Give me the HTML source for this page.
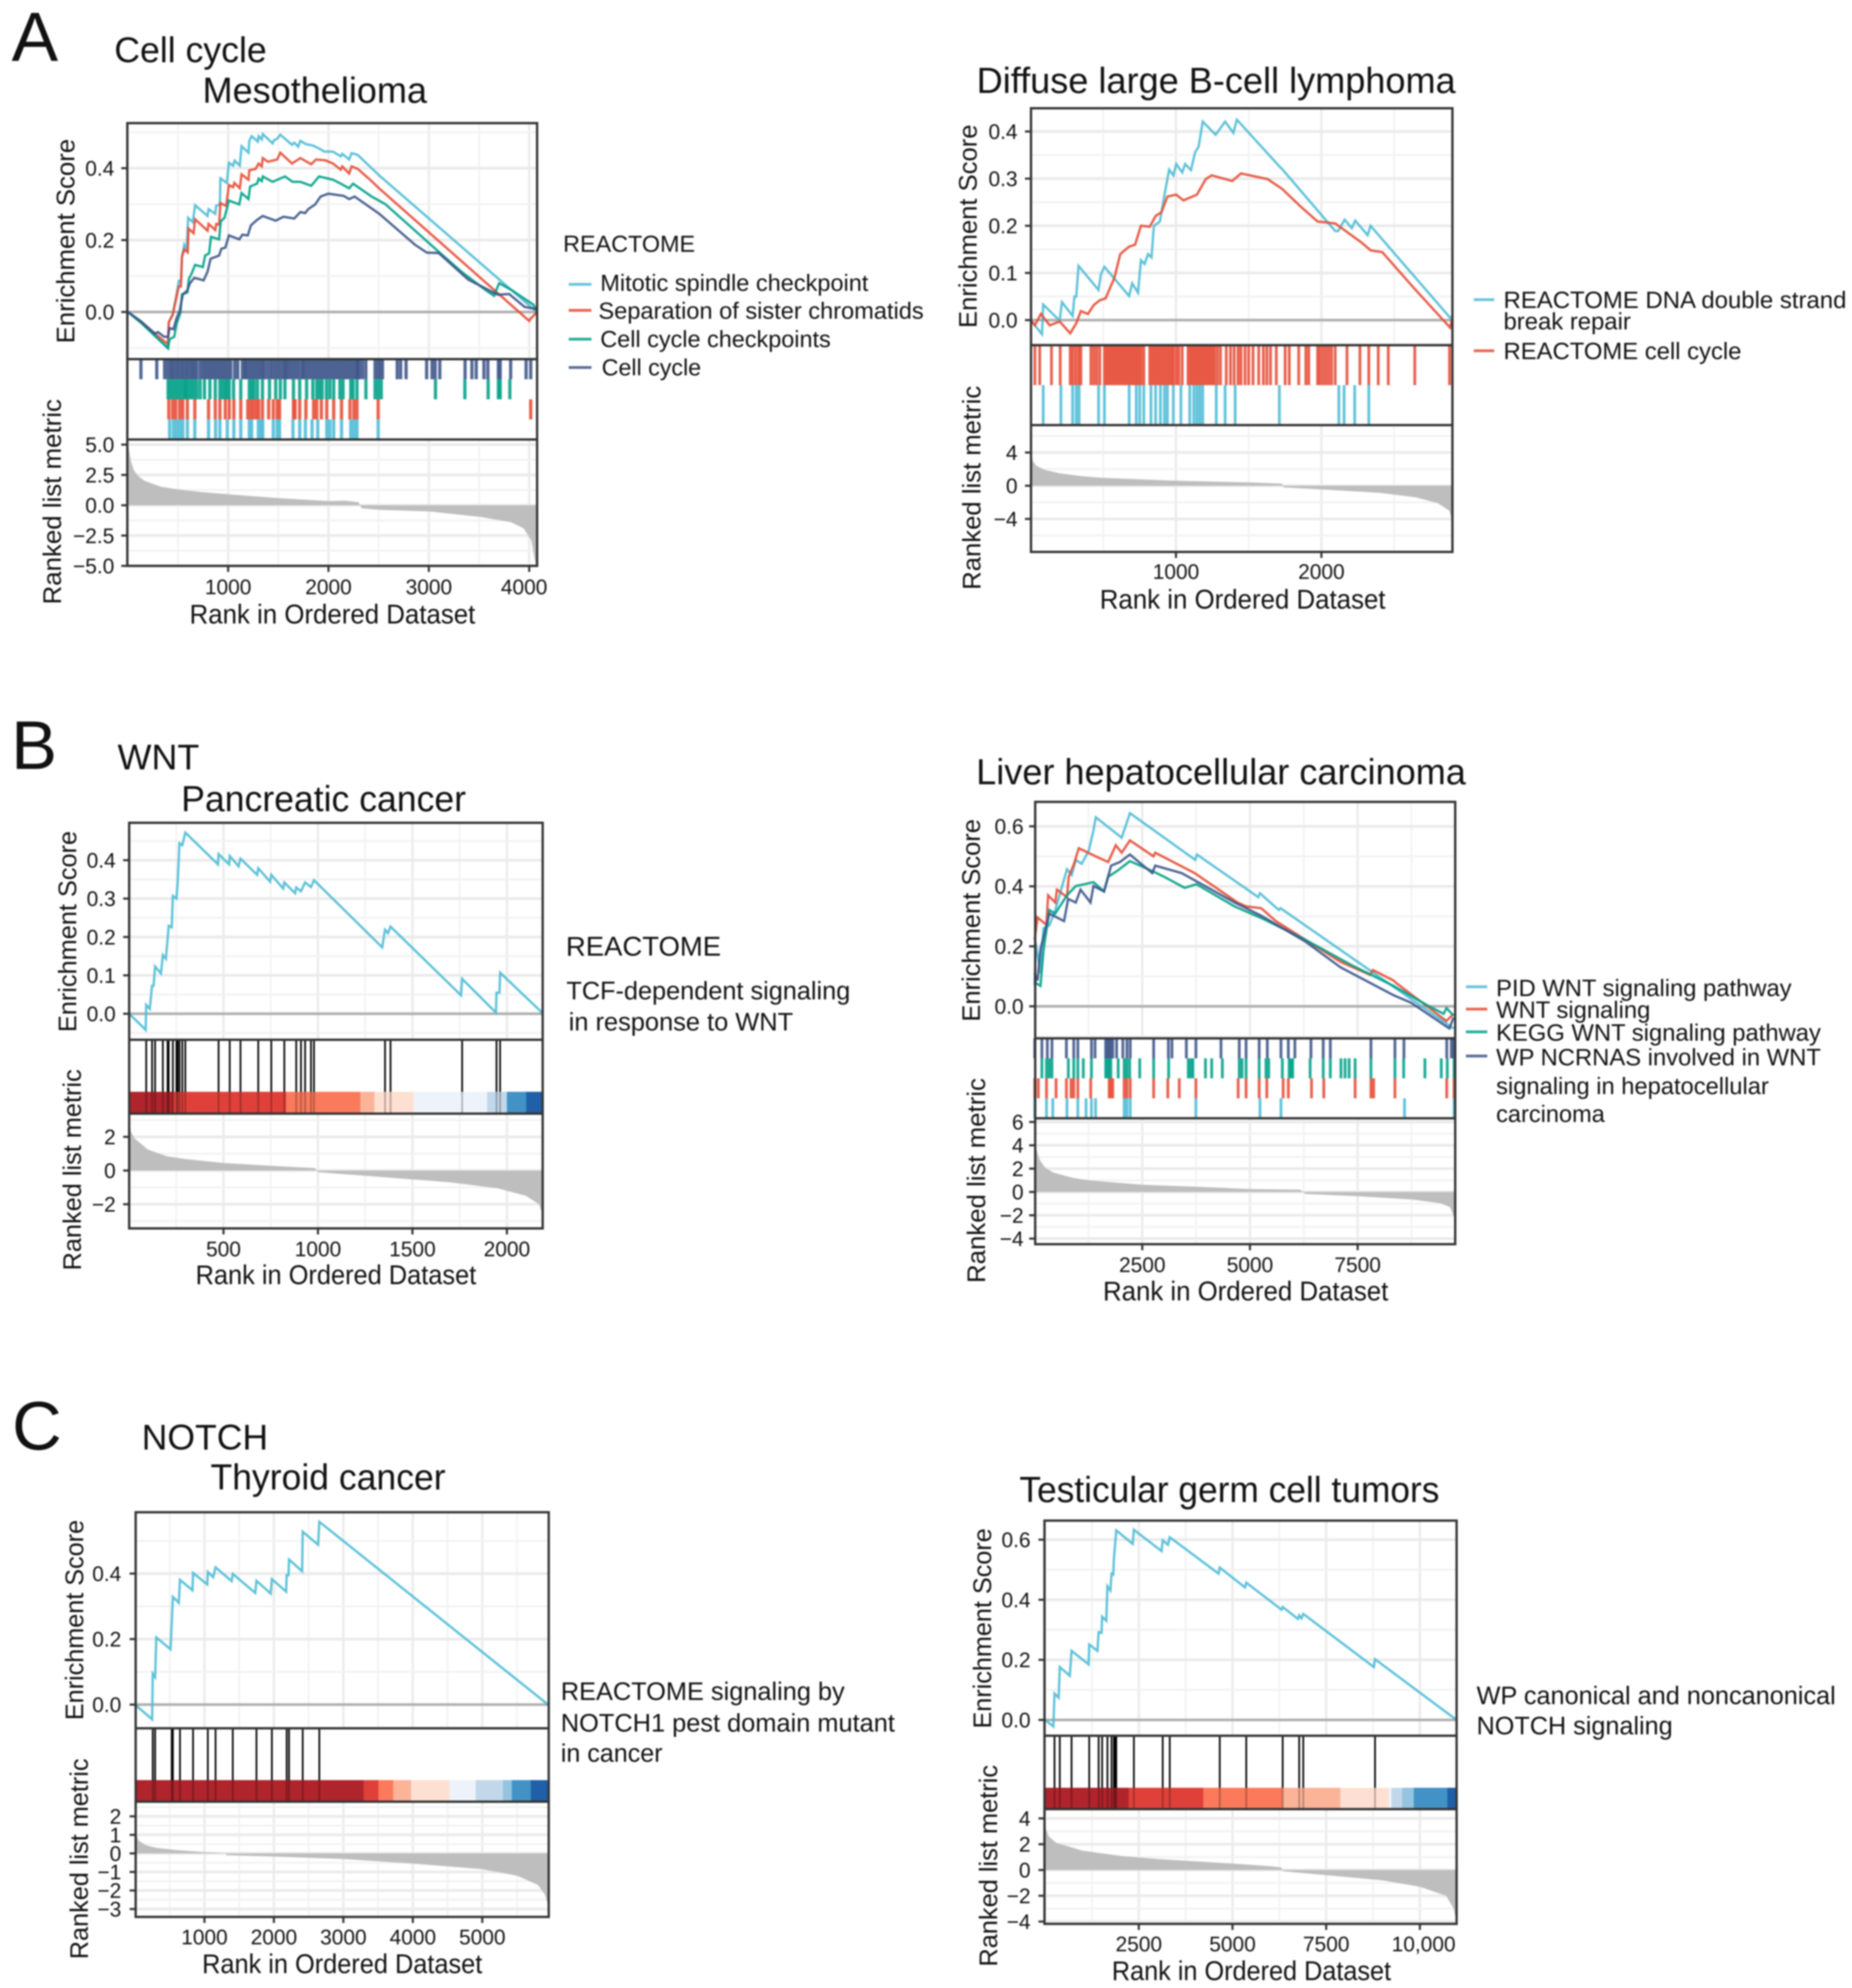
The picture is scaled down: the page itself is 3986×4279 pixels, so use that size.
<!DOCTYPE html>
<html lang="en">
<head>
<meta charset="utf-8">
<title>GSEA enrichment plots</title>
<style>
html,body{margin:0;padding:0;background:#fff;}
#figure{display:block;width:3986px;height:4279px;filter:blur(1.5px);}
#figure text{font-family:"Liberation Sans",sans-serif;fill:#111;}
</style>
</head>
<body>
<svg id="figure" xmlns="http://www.w3.org/2000/svg" width="3986" height="4279" viewBox="0 0 3986 4279">
<rect x="0" y="0" width="3986" height="4279" fill="#ffffff"/>
<g id="marks"></g>

<g>
<text x="25" y="131" font-size="150">A</text>
<text x="246" y="134" font-size="77" textLength="328" lengthAdjust="spacingAndGlyphs">Cell cycle</text>
<text x="436" y="221" font-size="78" textLength="483" lengthAdjust="spacingAndGlyphs">Mesothelioma</text>
<text x="160" y="519" font-size="55" text-anchor="middle" transform="rotate(-90 160 519)" textLength="440" lengthAdjust="spacingAndGlyphs">Enrichment Score</text>
<text x="131" y="1080" font-size="55" text-anchor="middle" transform="rotate(-90 131 1080)" textLength="442" lengthAdjust="spacingAndGlyphs">Ranked list metric</text>
<text x="408" y="1342" font-size="58" textLength="615" lengthAdjust="spacingAndGlyphs">Rank in Ordered Dataset</text>
<text x="1212" y="542" font-size="50" textLength="284" lengthAdjust="spacingAndGlyphs">REACTOME</text>
<g><line x1="1224" x2="1273" y1="612" y2="612" stroke="#4DBBD5" stroke-width="6" opacity=".85"/><text x="1292" y="626" font-size="50" textLength="577" lengthAdjust="spacingAndGlyphs">Mitotic spindle checkpoint</text></g>
<g><line x1="1224" x2="1273" y1="668" y2="668" stroke="#E64B35" stroke-width="6" opacity=".85"/><text x="1288" y="686" font-size="50" textLength="700" lengthAdjust="spacingAndGlyphs">Separation of sister chromatids</text></g>
<g><line x1="1224" x2="1273" y1="730" y2="730" stroke="#00A087" stroke-width="6" opacity=".85"/><text x="1292" y="747" font-size="50" textLength="496" lengthAdjust="spacingAndGlyphs">Cell cycle checkpoints</text></g>
<g><line x1="1224" x2="1273" y1="791" y2="791" stroke="#3C5488" stroke-width="6" opacity=".85"/><text x="1295" y="808" font-size="50" textLength="214" lengthAdjust="spacingAndGlyphs">Cell cycle</text></g>

<text x="2102" y="200" font-size="78" textLength="1031" lengthAdjust="spacingAndGlyphs">Diffuse large B-cell lymphoma</text>
<text x="2102" y="487" font-size="55" text-anchor="middle" transform="rotate(-90 2102 487)" textLength="438" lengthAdjust="spacingAndGlyphs">Enrichment Score</text>
<text x="2110" y="1050" font-size="55" text-anchor="middle" transform="rotate(-90 2110 1050)" textLength="439" lengthAdjust="spacingAndGlyphs">Ranked list metric</text>
<text x="2367" y="1310" font-size="58" textLength="615" lengthAdjust="spacingAndGlyphs">Rank in Ordered Dataset</text>
<g><line x1="3172" x2="3216" y1="645" y2="645" stroke="#4DBBD5" stroke-width="6" opacity=".85"/><text x="3236" y="663" font-size="51" textLength="738" lengthAdjust="spacingAndGlyphs">REACTOME DNA double strand</text><text x="3236" y="709" font-size="51" textLength="274" lengthAdjust="spacingAndGlyphs">break repair</text></g>
<g><line x1="3172" x2="3216" y1="755" y2="755" stroke="#E64B35" stroke-width="6" opacity=".85"/><text x="3236" y="773" font-size="51" textLength="512" lengthAdjust="spacingAndGlyphs">REACTOME cell cycle</text></g>
</g>

<g>
<text x="24" y="1655" font-size="148">B</text>
<text x="253" y="1656" font-size="77" textLength="176" lengthAdjust="spacingAndGlyphs">WNT</text>
<text x="390" y="1746" font-size="78" textLength="613" lengthAdjust="spacingAndGlyphs">Pancreatic cancer</text>
<text x="164" y="2005" font-size="55" text-anchor="middle" transform="rotate(-90 164 2005)" textLength="433" lengthAdjust="spacingAndGlyphs">Enrichment Score</text>
<text x="174" y="2518" font-size="55" text-anchor="middle" transform="rotate(-90 174 2518)" textLength="433" lengthAdjust="spacingAndGlyphs">Ranked list metric</text>
<text x="421" y="2764" font-size="58" textLength="604" lengthAdjust="spacingAndGlyphs">Rank in Ordered Dataset</text>
<text x="1218" y="2057" font-size="58" textLength="334" lengthAdjust="spacingAndGlyphs">REACTOME</text>
<text x="1219" y="2151" font-size="55" textLength="611" lengthAdjust="spacingAndGlyphs">TCF-dependent signaling</text>
<text x="1224" y="2218" font-size="55" textLength="483" lengthAdjust="spacingAndGlyphs">in response to WNT</text>

<text x="2101" y="1688" font-size="78" textLength="1054" lengthAdjust="spacingAndGlyphs">Liver hepatocellular carcinoma</text>
<text x="2109" y="1981" font-size="55" text-anchor="middle" transform="rotate(-90 2109 1981)" textLength="436" lengthAdjust="spacingAndGlyphs">Enrichment Score</text>
<text x="2120" y="2541" font-size="55" text-anchor="middle" transform="rotate(-90 2120 2541)" textLength="441" lengthAdjust="spacingAndGlyphs">Ranked list metric</text>
<text x="2374" y="2799" font-size="58" textLength="614" lengthAdjust="spacingAndGlyphs">Rank in Ordered Dataset</text>
<g><line x1="3155" x2="3201" y1="2124" y2="2124" stroke="#4DBBD5" stroke-width="6" opacity=".85"/><text x="3220" y="2144" font-size="51" textLength="636" lengthAdjust="spacingAndGlyphs">PID WNT signaling pathway</text></g>
<g><line x1="3155" x2="3201" y1="2172" y2="2172" stroke="#E64B35" stroke-width="6" opacity=".85"/><text x="3220" y="2191" font-size="51" textLength="332" lengthAdjust="spacingAndGlyphs">WNT signaling</text></g>
<g><line x1="3155" x2="3201" y1="2221" y2="2221" stroke="#00A087" stroke-width="6" opacity=".85"/><text x="3220" y="2240" font-size="51" textLength="699" lengthAdjust="spacingAndGlyphs">KEGG WNT signaling pathway</text></g>
<g><line x1="3155" x2="3201" y1="2273" y2="2273" stroke="#3C5488" stroke-width="6" opacity=".85"/><text x="3220" y="2293" font-size="51" textLength="699" lengthAdjust="spacingAndGlyphs">WP NCRNAS involved in WNT</text><text x="3220" y="2355" font-size="51" textLength="587" lengthAdjust="spacingAndGlyphs">signaling in hepatocellular</text><text x="3220" y="2415" font-size="51" textLength="234" lengthAdjust="spacingAndGlyphs">carcinoma</text></g>
</g>

<g>
<text x="26" y="3120" font-size="148">C</text>
<text x="305" y="3120" font-size="77" textLength="272" lengthAdjust="spacingAndGlyphs">NOTCH</text>
<text x="453" y="3206" font-size="78" textLength="506" lengthAdjust="spacingAndGlyphs">Thyroid cancer</text>
<text x="179" y="3487" font-size="55" text-anchor="middle" transform="rotate(-90 179 3487)" textLength="431" lengthAdjust="spacingAndGlyphs">Enrichment Score</text>
<text x="189" y="4001" font-size="55" text-anchor="middle" transform="rotate(-90 189 4001)" textLength="432" lengthAdjust="spacingAndGlyphs">Ranked list metric</text>
<text x="435" y="4247" font-size="58" textLength="603" lengthAdjust="spacingAndGlyphs">Rank in Ordered Dataset</text>
<text x="1207" y="3659" font-size="55" textLength="611" lengthAdjust="spacingAndGlyphs">REACTOME signaling by</text>
<text x="1207" y="3727" font-size="55" textLength="719" lengthAdjust="spacingAndGlyphs">NOTCH1 pest domain mutant</text>
<text x="1207" y="3792" font-size="55" textLength="219" lengthAdjust="spacingAndGlyphs">in cancer</text>

<text x="2194" y="3233" font-size="78" textLength="904" lengthAdjust="spacingAndGlyphs">Testicular germ cell tumors</text>
<text x="2133" y="3505" font-size="55" text-anchor="middle" transform="rotate(-90 2133 3505)" textLength="431" lengthAdjust="spacingAndGlyphs">Enrichment Score</text>
<text x="2146" y="4016" font-size="55" text-anchor="middle" transform="rotate(-90 2146 4016)" textLength="434" lengthAdjust="spacingAndGlyphs">Ranked list metric</text>
<text x="2393" y="4262" font-size="58" textLength="601" lengthAdjust="spacingAndGlyphs">Rank in Ordered Dataset</text>
<text x="3178" y="3668" font-size="55" textLength="773" lengthAdjust="spacingAndGlyphs">WP canonical and noncanonical</text>
<text x="3178" y="3733" font-size="55" textLength="422" lengthAdjust="spacingAndGlyphs">NOTCH signaling</text>
</g>
</svg>

<script>
// ---------- Panel A1: Mesothelioma ----------
const a1RankTicks=[1000,2000,3000,4000];
const a1RankLabels=['1000','2000','3000','4000'];
const a1EsTicks=[0,0.2,0.4];
const a1EsLabels=['0.0','0.2','0.4'];
const a1MetricTicks=[-5,-2.5,0,2.5,5];
const a1MetricLabels=['\u22125.0','\u22122.5','0.0','2.5','5.0'];
const a1Mitotic=[[1,0],[131,-.026],[401,-.101],[409,-.028],[447,-.007],[478,.036],[509,.086],[532,.088],[540,.153],[563,.187],[586,.174],[602,.262],[648,.25],[671,.297],[795,.267],[805,.286],[872,.273],[880,.295],[918,.299],[923,.372],[987,.359],[1008,.415],[1049,.407],[1065,.421],[1116,.407],[1134,.461],[1203,.443],[1211,.476],[1234,.489],[1296,.474],[1304,.489],[1335,.48],[1345,.495],[1443,.469],[1458,.478],[1489,.482],[1520,.493],[1636,.465],[1659,.471],[1697,.46],[1720,.476],[1774,.467],[1844,.463],[1898,.456],[1960,.446],[2044,.446],[2122,.433],[2137,.44],[2206,.424],[2230,.442],[2291,.437],[2430,.4],[2505,.38],[4075,0]];
const a1Separation=[[1,0],[131,-.028],[401,-.09],[401,-.076],[409,-.028],[447,-.009],[478,.032],[509,.071],[529,.071],[540,.153],[563,.174],[597,.166],[606,.232],[656,.219],[671,.258],[795,.226],[805,.245],[872,.228],[882,.245],[910,.243],[923,.303],[980,.295],[1008,.353],[1049,.347],[1062,.359],[1116,.344],[1134,.383],[1203,.368],[1211,.394],[1273,.398],[1304,.413],[1335,.405],[1345,.428],[1396,.418],[1489,.424],[1520,.443],[1636,.413],[1720,.428],[1828,.411],[1875,.424],[1967,.422],[2044,.413],[2122,.396],[2137,.405],[2206,.385],[2230,.405],[2291,.398],[2430,.364],[2500,.345],[4000,-.025],[4010,-.02],[4078,0]];
const a1Checkpoints=[[1,0],[131,-.03],[401,-.101],[416,-.076],[463,-.069],[486,-.033],[525,-.002],[540,.049],[594,.054],[609,.092],[633,.105],[671,.131],[748,.125],[771,.157],[810,.163],[829,.209],[910,.202],[926,.252],[964,.262],[1008,.31],[1111,.299],[1134,.331],[1203,.314],[1219,.349],[1288,.357],[1304,.371],[1335,.364],[1345,.377],[1443,.362],[1566,.377],[1643,.362],[1720,.362],[1828,.351],[1906,.377],[2044,.368],[2122,.357],[2206,.344],[2245,.357],[2430,.321],[2566,.3],[3068,.175],[3334,.11],[3570,.06],[3650,.045],[3700,.08],[3830,.06],[4043,.02],[4078,0]];
const a1CellCycle=[[1,0],[131,-.026],[270,-.06],[301,-.056],[362,-.069],[401,-.069],[416,-.045],[455,-.048],[486,-.017],[517,.002],[548,.049],[594,.06],[617,.079],[663,.095],[756,.088],[795,.112],[825,.148],[910,.157],[933,.176],[972,.179],[1008,.213],[1111,.202],[1142,.215],[1196,.213],[1227,.241],[1288,.256],[1345,.267],[1474,.254],[1551,.265],[1659,.26],[1720,.278],[1767,.275],[1798,.286],[1867,.299],[1921,.321],[1998,.329],[2152,.323],[2206,.314],[2260,.321],[2430,.288],[2507,.273],[2862,.187],[2980,.165],[3098,.164],[3393,.09],[3688,.048],[3800,.05],[3954,.014],[4078,.008]];
const a1HitsCellCycle=[131,289,367,398,424,443,465,490,510,535,555,580,600,625,645,665,687,721,749,772,795,818,841,864,887,910,933,956,979,1002,1026,1065,1096,1142,1165,1180,1203,1226,1249,1272,1295,1318,1340,1358,1389,1420,1443,1470,1495,1520,1545,1566,1582,1605,1630,1655,1680,1705,1736,1751,1775,1800,1825,1850,1875,1900,1925,1950,1975,2000,2025,2050,2075,2100,2125,2150,2175,2200,2225,2250,2275,2290,2307,2338,2372,2464,2492,2515,2538,2685,2719,2773,2978,3032,3063,3109,3361,3429,3472,3549,3588,3693,3711,3815,3969,4015];
const a1HitsCheckpoints=[402,425,450,475,500,525,550,571,586,610,635,660,687,721,764,818,872,918,945,970,990,1011,1054,1126,1211,1235,1258,1292,1342,1412,1474,1520,1566,1651,1713,1782,1844,1883,1910,1937,1980,2014,2052,2114,2145,2222,2245,2284,2373,2464,2495,2526,3066,3359,3591,3693,3711,3807];
const a1HitsSeparation=[409,447,478,517,548,594,668,805,872,918,972,1011,1057,1126,1196,1225,1250,1281,1304,1342,1404,1450,1489,1512,1651,1667,1713,1775,1852,1883,1929,1983,2052,2130,2214,2253,2284,2495,4015];
const a1HitsMitotic=[417,455,486,517,548,594,668,805,875,918,992,1057,1126,1211,1234,1301,1327,1345,1450,1489,1512,1646,1713,1770,1836,1893,1983,2014,2052,2130,2222,2253,2284,2495];
const a1Metric=[[1,5],[8,4.8],[31,3.64],[62,2.87],[100,2.43],[162,2.04],[239,1.79],[332,1.53],[471,1.34],[733,1.09],[1011,.9],[1474,.6],[1998,.345],[2168,.38],[2299,.25],[2330,-.25],[2508,-.38],[3001,-.51],[3511,-.96],[3819,-1.4],[3943,-1.9],[4020,-2.87],[4066,-5]];

// ---------- Panel A2: Diffuse large B-cell lymphoma ----------
const a2RankTicks=[1000,2000];
const a2RankLabels=['1000','2000'];
const a2EsTicks=[0,.1,.2,.3,.4];
const a2EsLabels=['0.0','0.1','0.2','0.3','0.4'];
const a2MetricTicks=[-4,0,4];
const a2MetricLabels=['\u22124','0','4'];
const a2DnaRepair=[[1,0],[79,-.03],[87,.033],[200,-.001],[216,.038],[289,.009],[302,.05],[314,.05],[330,.115],[467,.064],[484,.097],[508,.113],[678,.051],[699,.078],[739,.058],[759,.127],[784,.119],[808,.14],[832,.133],[848,.2],[889,.209],[921,.266],[953,.319],[982,.307],[1002,.331],[1043,.313],[1063,.331],[1103,.318],[1132,.356],[1156,.368],[1184,.421],[1273,.393],[1338,.421],[1395,.397],[1419,.425],[1711,.326],[1731,.32],[2095,.189],[2115,.189],[2160,.213],[2209,.195],[2233,.211],[2318,.18],[2338,.2],[2885,.005],[2901,.008]];
const a2CellCycle=[[1,0],[30,-.011],[71,.013],[132,-.011],[200,-.003],[273,-.028],[314,-.007],[346,.019],[395,.013],[435,.032],[476,.042],[516,.046],[577,.09],[617,.14],[678,.156],[719,.16],[759,.2],[820,.198],[860,.221],[901,.229],[941,.262],[1002,.266],[1051,.254],[1144,.266],[1205,.299],[1245,.307],[1387,.295],[1447,.311],[1630,.299],[1731,.278],[1853,.242],[1974,.209],[2095,.205],[2278,.164],[2338,.148],[2419,.144],[2642,.066],[2885,-.016],[2901,.005]];
const a2HitsCellCycle=[30,63,144,204,273,290,310,330,346,415,435,455,476,508,522,536,550,564,578,592,606,620,634,648,662,676,690,704,718,732,746,760,779,820,835,850,865,880,895,910,925,940,955,970,982,1002,1020,1043,1083,1097,1111,1125,1139,1153,1167,1181,1195,1209,1223,1237,1251,1265,1285,1306,1346,1375,1400,1427,1447,1475,1500,1530,1569,1601,1625,1650,1690,1751,1779,1844,1893,1913,1974,1990,2010,2030,2050,2070,2095,2176,2265,2326,2391,2460,2642,2881];
const a2HitsDnaRepair=[87,209,289,314,334,468,508,678,727,751,779,828,860,893,921,941,982,1034,1095,1123,1144,1164,1184,1277,1338,1407,1711,2120,2156,2229,2326];
const a2Metric=[[1,4.2],[15,3],[40,2.4],[100,1.9],[200,1.5],[350,1.15],[500,.95],[1000,.6],[1500,.4],[1730,.25],[1740,-.2],[2000,-.45],[2400,-.85],[2650,-1.4],[2800,-2.1],[2880,-3],[2901,-4.3]];

// ---------- Panel B1: Pancreatic cancer ----------
const b1RankTicks=[500,1000,1500,2000];
const b1RankLabels=['500','1000','1500','2000'];
const b1EsTicks=[0,.1,.2,.3,.4];
const b1EsLabels=['0.0','0.1','0.2','0.3','0.4'];
const b1MetricTicks=[-2,0,2];
const b1MetricLabels=['\u22122','0','2'];
const b1Tcf=[[1,0],[88,-.042],[91,.023],[110,.013],[122,.073],[130,.073],[138,.123],[169,.105],[179,.153],[195,.143],[204,.193],[210,.229],[226,.225],[232,.307],[251,.3],[257,.337],[267,.444],[282,.439],[298,.472],[471,.389],[474,.416],[530,.389],[533,.411],[580,.384],[590,.404],[678,.362],[684,.379],[747,.344],[753,.362],[816,.326],[822,.342],[879,.314],[885,.329],[910,.319],[932,.342],[963,.33],[979,.348],[1340,.173],[1355,.219],[1371,.21],[1384,.227],[1757,.048],[1763,.091],[1942,.003],[1945,.055],[1961,.055],[1964,.107],[2186,.003]];
const b1HitsTcf=[91,122,138,179,204,210,232,251,257,267,282,298,474,533,590,684,753,822,885,910,932,963,979,1355,1384,1763,1945,1964];
const b1BandEnds=[235,831,1224,1299,1506,1895,2000,2102,2189];
const b1BandLevels=[0,1,2,3,4,5,6,8,9];
const b1Metric=[[1,3],[10,2.3],[30,1.9],[100,1.25],[200,.85],[300,.68],[500,.45],[800,.25],[985,.15],[1000,-.1],[1300,-.35],[1700,-.7],[1950,-1.05],[2100,-1.5],[2170,-2],[2189,-2.6]];

// ---------- Panel B2: Liver hepatocellular carcinoma ----------
const b2RankTicks=[2500,5000,7500];
const b2RankLabels=['2500','5000','7500'];
const b2EsTicks=[0,.2,.4,.6];
const b2EsLabels=['0.0','0.2','0.4','0.6'];
const b2MetricTicks=[-4,-2,0,2,4,6];
const b2MetricLabels=['\u22124','\u22122','0','2','4','6'];
const b2Pid=[[1,.07],[27,.21],[137,.11],[205,.26],[342,.27],[478,.32],[751,.457],[861,.438],[956,.488],[1093,.475],[1257,.519],[1366,.586],[1421,.63],[2022,.562],[2213,.644],[3730,.488],[3770,.506],[5191,.364],[5232,.377],[5669,.321],[5710,.327],[9727,-.074]];
const b2Wnt=[[1,.222],[68,.296],[273,.272],[314,.37],[478,.346],[519,.389],[751,.364],[792,.432],[915,.475],[1025,.527],[1503,.494],[1708,.481],[1885,.537],[2022,.512],[2213,.553],[2760,.5],[2801,.512],[3716,.444],[4713,.346],[4918,.333],[5260,.327],[5601,.284],[7104,.148],[7787,.105],[7855,.121],[8333,.086],[8402,.077],[9563,-.049],[9727,-.025]];
const b2Kegg=[[1,.08],[137,.068],[205,.185],[342,.321],[478,.309],[751,.37],[956,.401],[1161,.407],[1366,.414],[1612,.383],[1708,.432],[1913,.451],[2213,.484],[2732,.451],[3005,.432],[3484,.395],[3757,.407],[4645,.333],[5328,.29],[6284,.222],[7377,.136],[8333,.068],[9085,.006],[9495,-.025],[9563,-.006],[9727,-.031]];
const b2Ncrnas=[[1,.11],[68,.086],[137,.191],[342,.309],[683,.284],[779,.358],[956,.346],[1066,.389],[1298,.346],[1366,.401],[1612,.383],[1776,.469],[1981,.481],[2213,.506],[2732,.444],[2801,.469],[3415,.444],[3716,.42],[4645,.346],[5260,.302],[6284,.216],[7104,.13],[8333,.037],[8743,.012],[9631,-.074],[9727,-.037]];
const b2HitsNcrnas=[4,169,295,403,738,909,1004,1320,1403,1650,1690,1730,1770,1814,1903,2049,2144,2220,2764,3106,3188,3523,3745,4327,4751,4910,5214,5403,5720,5891,6043,6416,6701,6866,7809,8366,8575,9569,9676,9727];
const b2HitsKegg=[169,276,340,403,783,909,1004,1131,1320,1650,1690,1730,1770,1941,2080,2140,2207,2441,2764,3112,3568,3625,3675,3967,4112,4359,4751,4815,4910,5214,5372,5435,5752,5910,5950,5992,6397,6701,6866,7113,7208,7302,7442,7809,8366,8569,9062,9442,9581,9739];
const b2HitsWnt=[4,86,276,498,738,846,909,1004,1302,1732,1770,1814,2080,2144,2220,2764,3093,3359,3745,4726,4910,5214,5391,5771,5891,6429,6714,7442,7809,7872,8366,9569,9739];
const b2HitsPid=[4,276,422,751,1004,1194,1320,1416,2080,2144,2220,3745,5233,5720,8588,9739];
const b2Metric=[[1,4.2],[42,3.7],[118,2.75],[245,2.08],[434,1.66],[878,1.22],[1257,1],[1827,.82],[2510,.62],[3757,.45],[4992,.25],[6163,.2],[6290,-.17],[7524,-.37],[8758,-.64],[9423,-.97],[9645,-1.3],[9727,-2.03],[9766,-2.5]];

// ---------- Panel C1: Thyroid cancer ----------
const c1RankTicks=[1000,2000,3000,4000,5000];
const c1RankLabels=['1000','2000','3000','4000','5000'];
const c1EsTicks=[0,.2,.4];
const c1EsLabels=['0.0','0.2','0.4'];
const c1MetricTicks=[-3,-2,-1,0,1,2];
const c1MetricLabels=['\u22123','\u22122','\u22121','0','1','2'];
const c1Notch=[[1,0],[247,-.045],[256,.094],[290,.084],[307,.205],[512,.169],[529,.25],[546,.329],[631,.311],[648,.381],[828,.349],[836,.402],[1041,.367],[1049,.405],[1126,.389],[1160,.419],[1391,.377],[1408,.399],[1732,.341],[1749,.378],[1954,.339],[1971,.383],[2176,.345],[2184,.395],[2210,.395],[2218,.443],[2406,.407],[2415,.528],[2637,.488],[2654,.558],[5947,0]];
const c1HitsNotch=[256,290,529,546,648,836,1049,1160,1408,1749,1971,2184,2218,2415,2654];
const c1BandEnds=[3292,3505,3718,3974,4529,4905,5297,5425,5698,5956];
const c1BandLevels=[0,1,2,3,4,5,6,7,8,9];
const c1Metric=[[1,1.2],[50,.7],[150,.45],[300,.3],[600,.18],[1000,.07],[1300,.02],[1320,-.1],[2000,-.17],[3000,-.3],[4000,-.55],[5000,-.85],[5500,-1.2],[5800,-1.7],[5900,-2.2],[5956,-2.9]];

// ---------- Panel C2: Testicular germ cell tumors ----------
const c2RankTicks=[2500,5000,7500,10000];
const c2RankLabels=['2500','5000','7500','10,000'];
const c2EsTicks=[0,.2,.4,.6];
const c2EsLabels=['0.0','0.2','0.4','0.6'];
const c2MetricTicks=[-4,-2,0,2,4];
const c2MetricLabels=['\u22124','\u22122','0','2','4'];
const c2Notch=[[1,0],[220,-.022],[251,.088],[361,.074],[392,.176],[659,.147],[706,.23],[1161,.185],[1177,.251],[1397,.23],[1428,.292],[1506,.29],[1522,.344],[1632,.33],[1663,.445],[1742,.431],[1773,.487],[1820,.484],[1836,.536],[1899,.631],[2338,.586],[2369,.633],[3107,.562],[3138,.598],[3279,.583],[3326,.608],[4629,.487],[4660,.507],[5335,.441],[5367,.457],[6308,.367],[6339,.376],[6747,.336],[6779,.348],[6841,.338],[6888,.353],[8771,.176],[8803,.202],[10968,.001]];
const c2HitsNotch=[251,392,706,1177,1428,1522,1663,1773,1836,1870,1899,2369,3138,3326,4660,5367,6339,6779,6888,8803];
const c2BandEnds=[2228,4221,6339,7877,9164,9242,9525,9838,10733,10979];
const c2BandLevels=[0,1,2,3,4,5,6,7,8,9];
const c2Metric=[[1,4],[20,3.2],[100,2.6],[300,2.1],[1000,1.5],[2000,1.1],[3000,.85],[5000,.5],[6000,.3],[6300,.2],[6350,-.1],[7500,-.4],[9000,-.8],[10000,-1.3],[10700,-2],[10900,-3],[10979,-4]];

// ---------- Shared styling ----------
const CYAN='#4DBBD5', RED='#E64B35', GREEN='#00A087', NAVY='#3C5488';
const BAND_COLORS=['#b0242c','#e0403a','#fb7a5b','#fcb499','#fee0d2','#eef3fb','#c2d8ea','#94c4df','#4292c6','#2060a8'];

const panels=[
 {id:'mesothelioma',rankTicks:a1RankTicks,rankLabels:a1RankLabels,esTicks:a1EsTicks,esLabels:a1EsLabels,mTicks:a1MetricTicks,mLabels:a1MetricLabels,
  series:[[a1Mitotic,CYAN],[a1Separation,RED],[a1Checkpoints,GREEN],[a1CellCycle,NAVY]],
  rows:[[a1HitsCellCycle,NAVY],[a1HitsCheckpoints,GREEN],[a1HitsSeparation,RED],[a1HitsMitotic,CYAN]],hitWidth:7,metric:a1Metric,
  box:{l:274,r:1156,t:265,e:773,g:946,b:1218},xA:[1000,491,4000,1139],esA:[0,671.5,.4,362],mA:[5,957,-5,1218],tickRight:246,xTickY:1279,lastLabelShift:-11},
 {id:'dlbcl',rankTicks:a2RankTicks,rankLabels:a2RankLabels,esTicks:a2EsTicks,esLabels:a2EsLabels,mTicks:a2MetricTicks,mLabels:a2MetricLabels,
  series:[[a2DnaRepair,CYAN],[a2CellCycle,RED]],
  rows:[[a2HitsCellCycle,RED],[a2HitsDnaRepair,CYAN]],hitWidth:6,metric:a2Metric,
  box:{l:2219,r:3126,t:233,e:743,g:915,b:1188},xA:[1000,2531,2000,2844],esA:[0,689,.4,283],mA:[4,974,-4,1117],tickRight:2190,xTickY:1246,lastLabelShift:0},
 {id:'pancreatic',rankTicks:b1RankTicks,rankLabels:b1RankLabels,esTicks:b1EsTicks,esLabels:b1EsLabels,mTicks:b1MetricTicks,mLabels:b1MetricLabels,
  series:[[b1Tcf,CYAN]],hits:b1HitsTcf,bandEnds:b1BandEnds,bandLevels:b1BandLevels,barTop:2350,metric:b1Metric,
  box:{l:278,r:1168,t:1771,e:2238,g:2397,b:2644},xA:[500,481,2000,1091],esA:[0,2182,.4,1851.5],mA:[2,2447,-2,2592],tickRight:249,xTickY:2704,lastLabelShift:0},
 {id:'liver',rankTicks:b2RankTicks,rankLabels:b2RankLabels,esTicks:b2EsTicks,esLabels:b2EsLabels,mTicks:b2MetricTicks,mLabels:b2MetricLabels,
  series:[[b2Pid,CYAN],[b2Wnt,RED],[b2Kegg,GREEN],[b2Ncrnas,NAVY]],
  rows:[[b2HitsNcrnas,NAVY],[b2HitsKegg,GREEN],[b2HitsWnt,RED],[b2HitsPid,CYAN]],hitWidth:6,metric:b2Metric,
  box:{l:2228,r:3132,t:1726,e:2235,g:2407,b:2678},xA:[2500,2458.5,7500,2922],esA:[0,2166,.6,1778.6],mA:[6,2415,-4,2666],tickRight:2203,xTickY:2738,lastLabelShift:0},
 {id:'thyroid',rankTicks:c1RankTicks,rankLabels:c1RankLabels,esTicks:c1EsTicks,esLabels:c1EsLabels,mTicks:c1MetricTicks,mLabels:c1MetricLabels,
  series:[[c1Notch,CYAN]],hits:c1HitsNotch,bandEnds:c1BandEnds,bandLevels:c1BandLevels,barTop:3831.5,metric:c1Metric,
  box:{l:292,r:1181,t:3255,e:3720,g:3878,b:4126},xA:[1000,440,5000,1038],esA:[0,3669,.4,3387],mA:[2,3909.5,-3,4109],tickRight:261,xTickY:4185,lastLabelShift:0},
 {id:'testicular',rankTicks:c2RankTicks,rankLabels:c2RankLabels,esTicks:c2EsTicks,esLabels:c2EsLabels,mTicks:c2MetricTicks,mLabels:c2MetricLabels,
  series:[[c2Notch,CYAN]],hits:c2HitsNotch,bandEnds:c2BandEnds,bandLevels:c2BandLevels,barTop:3848,metric:c2Metric,
  box:{l:2248,r:3135,t:3273,e:3736,g:3894,b:4141},xA:[2500,2451,10000,3056],esA:[0,3702,.6,3314],mA:[4,3914,-4,4136],tickRight:2218,xTickY:4200,lastLabelShift:8}
];

const NS='http://www.w3.org/2000/svg';
const root=document.getElementById('marks');
function svgEl(tag,attrs,parent){
  const e=document.createElementNS(NS,tag);
  for(const k in attrs)e.setAttribute(k,attrs[k]);
  parent.appendChild(e);
  return e;
}
function linear(a){
  const k=(a[3]-a[1])/(a[2]-a[0]);
  const f=v=>a[1]+(v-a[0])*k;
  f.invert=p=>a[0]+(p-a[1])/k;
  return f;
}
function gridValues(ticks,lo,hi){
  const step=ticks.length>1?(ticks[1]-ticks[0]):Math.max(lo<0?-lo:0,hi);
  const minor=[];
  let v=ticks[0]-step/2;
  while(v>lo){minor.push(v);v-=step;}
  v=ticks[0]+step/2;
  while(v<hi){minor.push(v);v+=step;}
  const major=[];
  v=ticks[0];
  while(v>=lo){major.push(v);v-=step;}
  v=ticks[0]+step;
  while(v<=hi){major.push(v);v+=step;}
  return {major,minor};
}
function drawGrid(g,box,top,bottom,xs,ys,rankTicks,yTicks){
  const xd=gridValues(rankTicks,xs.invert(box.l),xs.invert(box.r));
  const yd=gridValues(yTicks,Math.min(ys.invert(top),ys.invert(bottom)),Math.max(ys.invert(top),ys.invert(bottom)));
  xd.minor.forEach(v=>{
    const ln=svgEl('line',{x1:xs(v),x2:xs(v),y1:top,y2:bottom,stroke:'#f2f2f2',"stroke-width":3.5},g);
    
    
  });
  xd.major.forEach(v=>{
    const ln=svgEl('line',{x1:xs(v),x2:xs(v),y1:top,y2:bottom,stroke:'#ebebeb',"stroke-width":5},g);
    
    
  });
  yd.minor.forEach(v=>{
    const ln=svgEl('line',{x1:box.l,x2:box.r,y1:ys(v),y2:ys(v),stroke:'#f2f2f2',"stroke-width":4},g);
    
    
  });
  yd.major.forEach(v=>{
    const ln=svgEl('line',{x1:box.l,x2:box.r,y1:ys(v),y2:ys(v),stroke:'#ebebeb',"stroke-width":6},g);
    
    
  });
}
function drawYTicks(g,box,ys,ticks,labels,tickRight){
  ticks.forEach((v,i)=>{
    const tk=svgEl('line',{x1:box.l-13,x2:box.l,y1:ys(v),y2:ys(v),stroke:'#333',"stroke-width":4.5},g);
    
    
    const tx=svgEl('text',{x:tickRight,y:ys(v)+16,'font-size':45,'text-anchor':'end'},g);
    
    
    tx.textContent=labels[i];
  });
}

panels.forEach(p=>{
  const box=p.box;
  const xs=linear(p.xA), es=linear(p.esA), ms=linear(p.mA);
  const g=svgEl('g',{},root);
  
  

  // Enrichment score subplot
  drawGrid(g,box,box.t,box.e,xs,es,p.rankTicks,p.esTicks);
  const zero=svgEl('line',{x1:box.l,x2:box.r,y1:es(0),y2:es(0),stroke:'#aeaeae',"stroke-width":5.5},g);
  
  
  p.series.forEach(s=>{
    const d=s[0].map((pt,i)=>(i?'L':'M')+xs(pt[0]).toFixed(1)+' '+es(pt[1]).toFixed(1)).join('');
    const path=svgEl('path',{d:d,fill:'none',stroke:s[1],"stroke-width":5,"stroke-linejoin":'miter',opacity:.9},g);
    
    
  });
  drawYTicks(g,box,es,p.esTicks,p.esLabels,p.tickRight);

  // Rug subplot
  if(p.rows){
    const h=(box.g-box.e)/p.rows.length;
    p.rows.forEach((row,ri)=>{
      row[0].forEach(r=>{
        const hit=svgEl('line',{x1:xs(r),x2:xs(r),y1:box.e+ri*h,y2:box.e+(ri+1)*h,stroke:row[1],"stroke-width":p.hitWidth,opacity:.88},g);
        
        
      });
    });
  }else{
    let start=xs.invert(box.l);
    p.bandEnds.forEach((end,i)=>{
      const x0=xs(start), x1=Math.min(xs(end),box.r);
      const band=svgEl('rect',{x:x0,y:p.barTop,width:x1-x0+.5,height:box.g-p.barTop,fill:BAND_COLORS[p.bandLevels[i]]},g);
      
      
      start=end;
    });
    p.hits.forEach(r=>{
      const hit=svgEl('line',{x1:xs(r),x2:xs(r),y1:box.e,y2:p.barTop,stroke:'#000',"stroke-width":3.6},g);
      
      
      const shade=svgEl('line',{x1:xs(r),x2:xs(r),y1:p.barTop,y2:box.g,stroke:'#000',"stroke-width":3.6,opacity:.28},g);
      
      
    });
  }

  // Ranked metric subplot
  drawGrid(g,box,box.g,box.b,xs,ms,p.rankTicks,p.mTicks);
  const dm='M'+xs(p.metric[0][0]).toFixed(1)+' '+ms(0).toFixed(1)+p.metric.map(pt=>'L'+xs(pt[0]).toFixed(1)+' '+ms(pt[1]).toFixed(1)).join('')+'L'+xs(p.metric[p.metric.length-1][0]).toFixed(1)+' '+ms(0).toFixed(1)+'Z';
  const area=svgEl('path',{d:dm,fill:'#bebebe'},g);
  
  
  drawYTicks(g,box,ms,p.mTicks,p.mLabels,p.tickRight);
  p.rankTicks.forEach((v,i)=>{
    const tk=svgEl('line',{x1:xs(v),x2:xs(v),y1:box.b,y2:box.b+13,stroke:'#333',"stroke-width":4.5},g);
    
    
    const shift=i===p.rankTicks.length-1?p.lastLabelShift:0;
    const tx=svgEl('text',{x:xs(v)+shift,y:p.xTickY,'font-size':45,'text-anchor':'middle'},g);
    
    
    tx.textContent=p.rankLabels[i];
  });

  // Subplot frames
  [[box.t,box.e],[box.e,box.g],[box.g,box.b]].forEach(f=>{
    const fr=svgEl('rect',{x:box.l,y:f[0],width:box.r-box.l,height:f[1]-f[0],fill:'none',stroke:'#333',"stroke-width":5},g);
    
    
  });
});
</script>
</body>
</html>
